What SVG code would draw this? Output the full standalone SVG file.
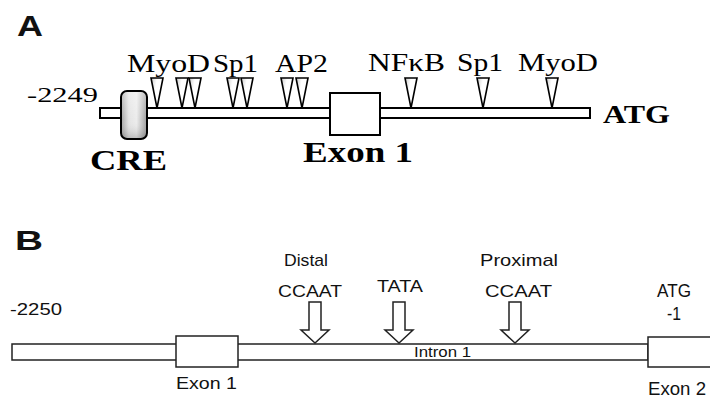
<svg xmlns="http://www.w3.org/2000/svg" width="710" height="398" viewBox="0 0 710 398">
<defs>
<linearGradient id="creGrad" x1="0" y1="0" x2="1" y2="0">
<stop offset="0" stop-color="#a4a4a4"/>
<stop offset="0.3" stop-color="#e4e4e4"/>
<stop offset="0.6" stop-color="#ececec"/>
<stop offset="1" stop-color="#9c9c9c"/>
</linearGradient>
<linearGradient id="creShade" x1="0" y1="0" x2="0" y2="1">
<stop offset="0" stop-color="#fff" stop-opacity="0.35"/>
<stop offset="0.6" stop-color="#fff" stop-opacity="0"/>
<stop offset="1" stop-color="#000" stop-opacity="0.2"/>
</linearGradient>
<linearGradient id="triGrad" x1="0" y1="0" x2="1" y2="0.4">
<stop offset="0" stop-color="#c8c8c8"/>
<stop offset="0.45" stop-color="#ffffff"/>
<stop offset="1" stop-color="#ffffff"/>
</linearGradient>
</defs>
<style>
.serif{font-family:"Liberation Serif","Times New Roman",serif;fill:#000}
.sans{font-family:"Liberation Sans",Arial,sans-serif;fill:#111}
.bold{font-weight:bold}
.lineA{fill:#fff;stroke:#000;stroke-width:2}
.tri{fill:url(#triGrad);stroke:#000;stroke-width:1.6;stroke-linejoin:miter}
.lineB{fill:#fff;stroke:#222;stroke-width:1.5}
.arrow{fill:#fff;stroke:#222;stroke-width:1.5;stroke-linejoin:miter}
</style>
<rect width="710" height="398" fill="#fff"/>

<!-- Panel A -->
<text class="sans bold" x="17" y="36" font-size="29" textLength="26" lengthAdjust="spacingAndGlyphs">A</text>
<g id="connectors">
<rect id="backboneA" class="lineA" x="100" y="108" width="490" height="10"/>
<g id="backboneB">
<rect class="lineB" x="12" y="344" width="636" height="16"/>
<polyline class="lineB" fill="none" points="710,337 648,337 648,367 710,367"/>
</g>
</g>

<g id="start-2249"><text class="serif" x="27" y="102" font-size="22" textLength="71" lengthAdjust="spacingAndGlyphs">-2249</text></g>

<g id="cre">
<rect x="121" y="91" width="26" height="48" rx="6" ry="6" fill="url(#creGrad)"/>
<rect x="121" y="91" width="26" height="48" rx="6" ry="6" fill="url(#creShade)" stroke="#000" stroke-width="2"/>
<text class="serif bold" x="90" y="170" font-size="30" textLength="77" lengthAdjust="spacingAndGlyphs">CRE</text>
</g>

<g id="exon1A">
<rect x="330" y="93" width="50" height="42" fill="#fff" stroke="#000" stroke-width="2"/>
<text class="serif bold" x="303" y="162" font-size="29" textLength="110" lengthAdjust="spacingAndGlyphs">Exon 1</text>
</g>

<g id="atgA"><text class="serif bold" x="603" y="123" font-size="25" textLength="67" lengthAdjust="spacingAndGlyphs">ATG</text></g>

<g id="myod1">
<text class="serif" x="127" y="72" font-size="26" textLength="83" lengthAdjust="spacingAndGlyphs">MyoD</text>
<polygon class="tri" points="151,78 163,78 157,108"/>
<polygon class="tri" points="176,78 188,78 182,108"/>
<polygon class="tri" points="189,78 201,78 195,108"/>
</g>
<g id="sp1a">
<text class="serif" x="213" y="72" font-size="26" textLength="45" lengthAdjust="spacingAndGlyphs">Sp1</text>
<polygon class="tri" points="227,78 239,78 233,108"/>
<polygon class="tri" points="241,78 253,78 247,108"/>
</g>
<g id="ap2">
<text class="serif" x="275" y="72" font-size="26" textLength="53" lengthAdjust="spacingAndGlyphs">AP2</text>
<polygon class="tri" points="281,78 293,78 287,108"/>
<polygon class="tri" points="296,78 308,78 302,108"/>
</g>
<g id="nfkb">
<text class="serif" x="368" y="71" font-size="26" textLength="77" lengthAdjust="spacingAndGlyphs">NFκB</text>
<polygon class="tri" points="405,78 417,78 411,108"/>
</g>
<g id="sp1b">
<text class="serif" x="457" y="71" font-size="26" textLength="46" lengthAdjust="spacingAndGlyphs">Sp1</text>
<polygon class="tri" points="477,78 489,78 483,108"/>
</g>
<g id="myod2">
<text class="serif" x="518" y="71" font-size="26" textLength="80" lengthAdjust="spacingAndGlyphs">MyoD</text>
<polygon class="tri" points="546,78 558,78 552,108"/>
</g>

<!-- Panel B -->
<text class="sans bold" x="15" y="250" font-size="28" textLength="28" lengthAdjust="spacingAndGlyphs">B</text>

<g id="start-2250"><text class="sans" x="10" y="315" font-size="17" textLength="52" lengthAdjust="spacingAndGlyphs">-2250</text></g>

<g id="exon1B">
<rect class="lineB" x="176" y="336" width="62" height="31"/>
<text class="sans" x="176" y="389" font-size="17" textLength="61" lengthAdjust="spacingAndGlyphs">Exon 1</text>
</g>

<g id="intron1"><text class="sans" x="414" y="357" font-size="14" textLength="57" lengthAdjust="spacingAndGlyphs">Intron 1</text></g>

<g id="distal">
<text class="sans" x="284" y="266" font-size="17" textLength="44" lengthAdjust="spacingAndGlyphs">Distal</text>
<text class="sans" x="278" y="297" font-size="17" textLength="64" lengthAdjust="spacingAndGlyphs">CCAAT</text>
<polygon class="arrow" points="309,302 321,302 321,330 329,330 315,343 301,330 309,330"/>
</g>
<g id="tata">
<text class="sans" x="377" y="292" font-size="17" textLength="46" lengthAdjust="spacingAndGlyphs">TATA</text>
<polygon class="arrow" points="393,302 405,302 405,330 413,330 399,343 385,330 393,330"/>
</g>
<g id="proximal">
<text class="sans" x="480" y="266" font-size="17" textLength="78" lengthAdjust="spacingAndGlyphs">Proximal</text>
<text class="sans" x="485" y="297" font-size="17" textLength="67" lengthAdjust="spacingAndGlyphs">CCAAT</text>
<polygon class="arrow" points="509,302 521,302 521,330 529,330 515,343 501,330 509,330"/>
</g>

<g id="exon2">
<text class="sans" x="657" y="297" font-size="18" textLength="34" lengthAdjust="spacingAndGlyphs">ATG</text>
<text class="sans" x="667" y="320" font-size="18" textLength="14" lengthAdjust="spacingAndGlyphs">-1</text>
<text class="sans" x="648" y="395" font-size="18" textLength="58" lengthAdjust="spacingAndGlyphs">Exon 2</text>
</g>
</svg>
